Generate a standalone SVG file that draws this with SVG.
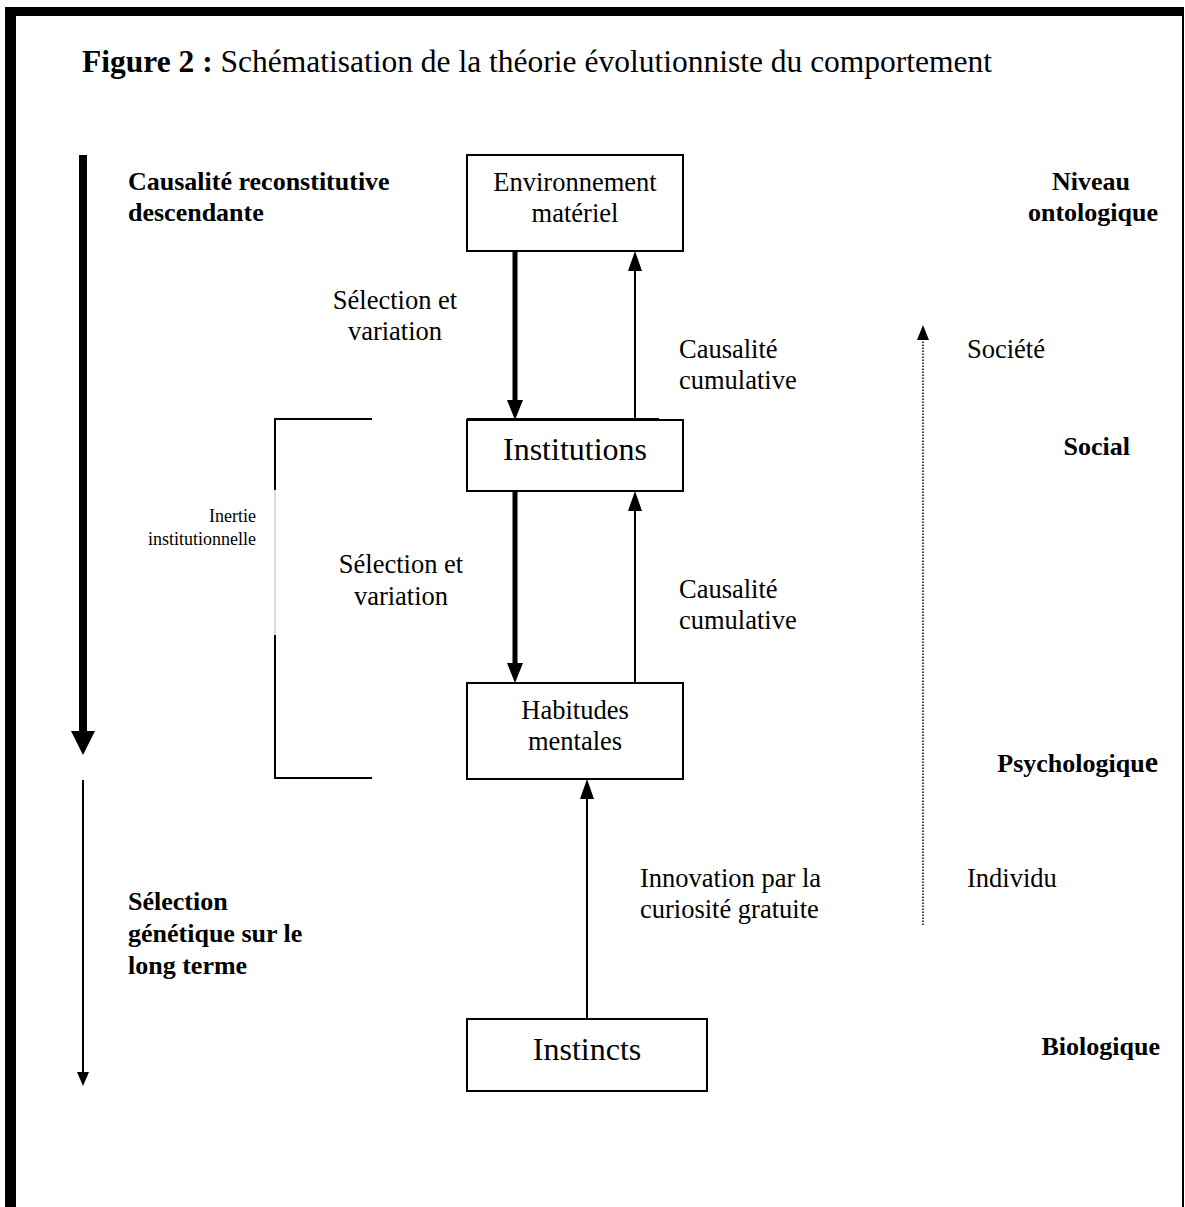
<svg xmlns="http://www.w3.org/2000/svg" width="1185" height="1207" viewBox="0 0 1185 1207">
<style>
text{font-family:"Liberation Serif","Times New Roman",serif;fill:#000}
.t{font-size:26.5px}
.b{font-size:26px;font-weight:bold}
.big{font-size:32px}
.sm{font-size:18px}
.box{fill:#fff;stroke:#000;stroke-width:2}
.thin{stroke:#000;stroke-width:2;fill:none}
.thick{stroke:#000;stroke-width:5;fill:none}
</style>
<rect x="0" y="0" width="1185" height="1207" fill="#fff"/>
<g id="frame">
<rect x="5" y="7" width="1178" height="9" fill="#000"/>
<rect x="5" y="7" width="11" height="1200" fill="#000"/>
<rect x="1182" y="7" width="2" height="1200" fill="#000"/>
</g>
<text x="82" y="72" style="font-size:31.5px"><tspan font-weight="bold">Figure 2 :</tspan> Schématisation de la théorie évolutionniste du comportement</text>

<g id="connectors">
<rect x="79" y="155" width="8" height="578" fill="#000"/>
<path d="M71,731L95,731L83,755z" fill="#000"/>
<line x1="83" y1="780" x2="83" y2="1074" stroke="#000" stroke-width="2"/>
<path d="M77,1072L89,1072L83,1086z" fill="#000"/>
<line x1="515" y1="251" x2="515" y2="402" class="thick"/>
<path d="M507,400L523,400L515,420z" fill="#000"/>
<line x1="635" y1="420" x2="635" y2="270" class="thin"/>
<path d="M628,271L642,271L635,251z" fill="#000"/>
<line x1="467" y1="419" x2="659" y2="419" stroke="#000" stroke-width="2"/>
<line x1="515" y1="491" x2="515" y2="665" class="thick"/>
<path d="M507,663L523,663L515,683z" fill="#000"/>
<line x1="635" y1="683" x2="635" y2="510" class="thin"/>
<path d="M628,511L642,511L635,491z" fill="#000"/>
<line x1="587" y1="1019" x2="587" y2="798" class="thin"/>
<path d="M580,799L594,799L587,779z" fill="#000"/>
<line x1="923" y1="925" x2="923" y2="338" stroke="#000" stroke-width="1.5" stroke-dasharray="1.5,1.5"/>
<path d="M917,340L929,340L923,325z" fill="#000"/>
<path d="M372,419H275V490" class="thin"/>
<path d="M275,635V778H372" class="thin"/>
<line x1="275" y1="490" x2="275" y2="635" stroke="#bbb" stroke-width="1"/>
</g>

<g id="env">
<rect x="467" y="155" width="216" height="96" class="box"/>
<text x="575" y="191" class="t" text-anchor="middle">Environnement</text>
<text x="575" y="222" class="t" text-anchor="middle">matériel</text>
</g>
<g id="inst">
<rect x="467" y="420" width="216" height="71" class="box"/>
<text x="575" y="460" class="big" text-anchor="middle">Institutions</text>
</g>
<g id="hab">
<rect x="467" y="683" width="216" height="96" class="box"/>
<text x="575" y="719" class="t" text-anchor="middle">Habitudes</text>
<text x="575" y="750" class="t" text-anchor="middle">mentales</text>
</g>
<g id="instincts">
<rect x="467" y="1019" width="240" height="72" class="box"/>
<text x="587" y="1060" class="big" text-anchor="middle">Instincts</text>
</g>

<g id="labels">
<text x="128" y="190" class="b">Causalité reconstitutive</text>
<text x="128" y="221" class="b">descendante</text>
<text x="395" y="309" class="t" text-anchor="middle">Sélection et</text>
<text x="395" y="340" class="t" text-anchor="middle">variation</text>
<text x="679" y="358" class="t">Causalité</text>
<text x="679" y="389" class="t">cumulative</text>
<text x="967" y="358" class="t">Société</text>
<text x="1130" y="190" class="b" text-anchor="end">Niveau</text>
<text x="1158" y="221" class="b" text-anchor="end">ontologique</text>
<text x="1130" y="455" class="b" text-anchor="end">Social</text>
<text x="256" y="522" class="sm" text-anchor="end">Inertie</text>
<text x="256" y="545" class="sm" text-anchor="end">institutionnelle</text>
<text x="401" y="573" class="t" text-anchor="middle">Sélection et</text>
<text x="401" y="605" class="t" text-anchor="middle">variation</text>
<text x="679" y="598" class="t">Causalité</text>
<text x="679" y="629" class="t">cumulative</text>
<text x="1158" y="772" class="b" text-anchor="end">Psychologiqu<tspan style="font-size:30px">e</tspan></text>
<text x="640" y="887" class="t">Innovation par la</text>
<text x="640" y="918" class="t">curiosité gratuite</text>
<text x="967" y="887" class="t">Individu</text>
<text x="128" y="910" class="b">Sélection</text>
<text x="128" y="942" class="b">génétique sur le</text>
<text x="128" y="974" class="b">long terme</text>
<text x="1160" y="1055" class="b" text-anchor="end">Biologique</text>
</g>
</svg>
